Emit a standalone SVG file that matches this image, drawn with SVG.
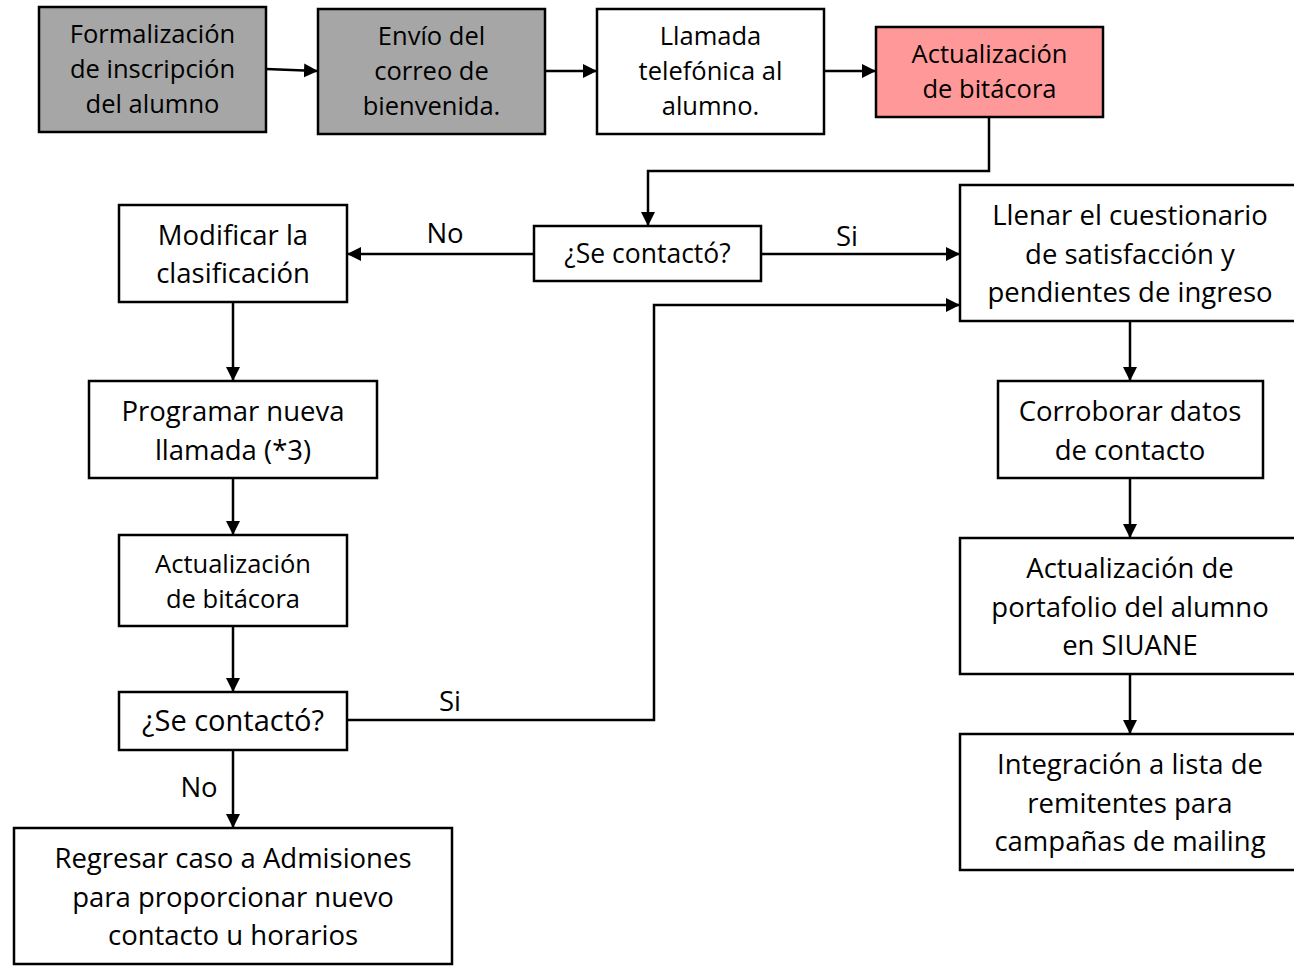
<svg xmlns="http://www.w3.org/2000/svg" width="1294" height="967" viewBox="0 0 1294 967">
<style>
rect{stroke:#000;stroke-width:2.5;fill:#fff}
.g{fill:#a6a6a6}
.p{fill:#ff9999}
text{font-family:"Open Sans",Lato,"Liberation Sans",sans-serif;fill:#000;text-anchor:middle}
.s{font-size:25.5px}
.m{font-size:27.5px}
.c path{fill:none;stroke:#000;stroke-width:2.5}
</style>
<defs>
<marker id="a" markerUnits="userSpaceOnUse" markerWidth="14" markerHeight="14" viewBox="0 0 14 14" refX="13" refY="7" orient="auto">
<path d="M0,0 L14,7 L0,14 Z" fill="#000"/>
</marker>
</defs>
<g class="c" id="connectors">
<path d="M266,69 L317,71" marker-end="url(#a)"/>
<path d="M545,71 L596,71" marker-end="url(#a)"/>
<path d="M824,71 L875,71" marker-end="url(#a)"/>
<path d="M989,117 V171 H648 V225" marker-end="url(#a)"/>
<path d="M534,254 H348" marker-end="url(#a)"/>
<path d="M761,254 H959" marker-end="url(#a)"/>
<path d="M233,302 V380" marker-end="url(#a)"/>
<path d="M233,478 V534" marker-end="url(#a)"/>
<path d="M233,626 V691" marker-end="url(#a)"/>
<path d="M347,720 H654 V305 H959" marker-end="url(#a)"/>
<path d="M233,750 V827" marker-end="url(#a)"/>
<path d="M1130,321 V380" marker-end="url(#a)"/>
<path d="M1130,478 V537" marker-end="url(#a)"/>
<path d="M1130,674 V733" marker-end="url(#a)"/>
<text class="m" x="445" y="243">No</text>
<text class="m" x="847" y="246">Si</text>
<text class="m" x="450" y="711">Si</text>
<text class="m" x="199" y="797">No</text>
</g>
<g id="n1"><rect class="g" x="39" y="7" width="227" height="125"/>
<text class="s" x="152.5" y="43">Formalización</text><text class="s" x="152.5" y="78">de inscripción</text><text class="s" x="152.5" y="113">del alumno</text></g>
<g id="n2"><rect class="g" x="318" y="9" width="227" height="125"/>
<text class="s" x="431.5" y="45">Envío del</text><text class="s" x="431.5" y="80">correo de</text><text class="s" x="431.5" y="115">bienvenida.</text></g>
<g id="n3"><rect x="597" y="9" width="227" height="125"/>
<text class="s" x="710.5" y="45">Llamada</text><text class="s" x="710.5" y="80">telefónica al</text><text class="s" x="710.5" y="115">alumno.</text></g>
<g id="n4"><rect class="p" x="876" y="27" width="227" height="90"/>
<text class="s" x="989.5" y="63">Actualización</text><text class="s" x="989.5" y="98">de bitácora</text></g>
<g id="d1"><rect x="534" y="226" width="227" height="55"/>
<text x="647.5" y="263" font-size="26.5px">¿Se contactó?</text></g>
<g id="n5"><rect x="119" y="205" width="228" height="97"/>
<text class="m" x="233" y="245">Modificar la</text><text class="m" x="233" y="283">clasificación</text></g>
<g id="n6"><rect x="89" y="381" width="288" height="97"/>
<text class="m" x="233" y="421">Programar nueva</text><text class="m" x="233" y="460">llamada (*3)</text></g>
<g id="n7"><rect x="119" y="535" width="228" height="91"/>
<text class="s" x="233" y="573">Actualización</text><text class="s" x="233" y="608">de bitácora</text></g>
<g id="d2"><rect x="119" y="692" width="228" height="58"/>
<text x="233" y="731" font-size="29px">¿Se contactó?</text></g>
<g id="n8"><rect x="14" y="828" width="438" height="136"/>
<text class="m" x="233" y="868">Regresar caso a Admisiones</text><text class="m" x="233" y="907">para proporcionar nuevo</text><text class="m" x="233" y="945">contacto u horarios</text></g>
<g id="n9"><rect x="960" y="185" width="340" height="136"/>
<text class="m" x="1130" y="225">Llenar el cuestionario</text><text class="m" x="1130" y="264">de satisfacción y</text><text class="m" x="1130" y="302">pendientes de ingreso</text></g>
<g id="n10"><rect x="998" y="381" width="265" height="97"/>
<text class="m" x="1130" y="421">Corroborar datos</text><text class="m" x="1130" y="460">de contacto</text></g>
<g id="n11"><rect x="960" y="538" width="340" height="136"/>
<text class="m" x="1130" y="578">Actualización de</text><text class="m" x="1130" y="617">portafolio del alumno</text><text class="m" x="1130" y="655">en SIUANE</text></g>
<g id="n12"><rect x="960" y="734" width="340" height="136"/>
<text class="m" x="1130" y="774">Integración a lista de</text><text class="m" x="1130" y="813">remitentes para</text><text class="m" x="1130" y="851">campañas de mailing</text></g>
</svg>
